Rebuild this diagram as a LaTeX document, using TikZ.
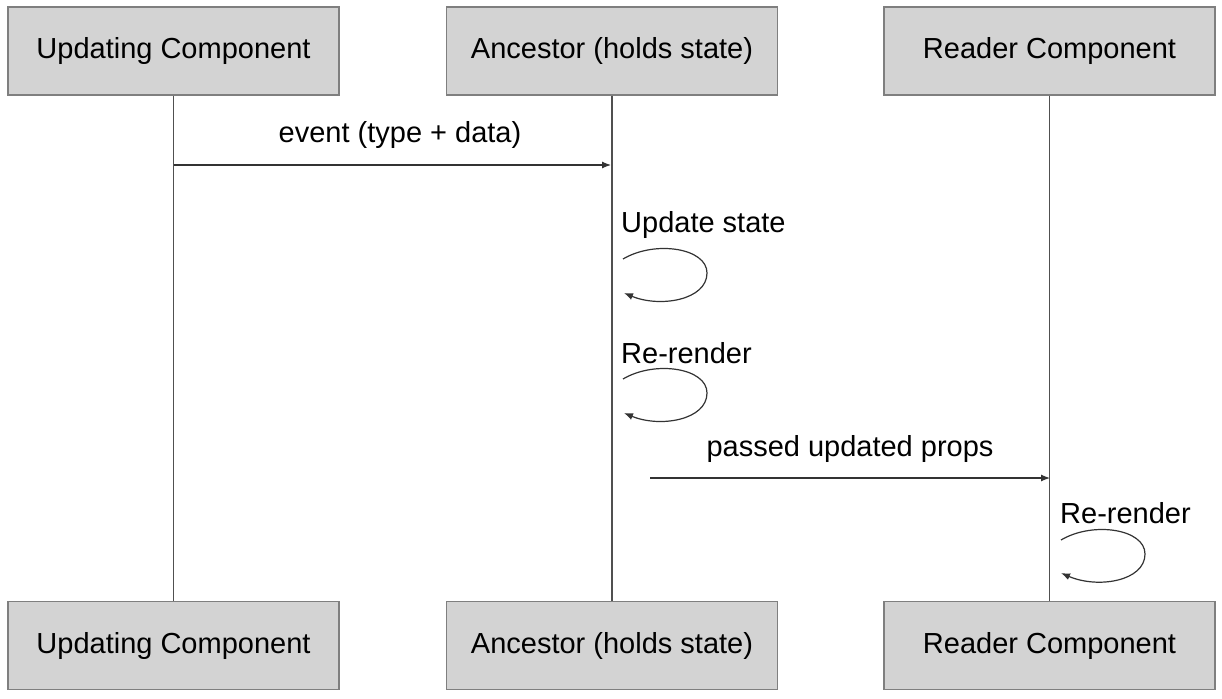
\documentclass[tikz,border=0pt]{standalone}
\usepackage{fontspec}
\setmainfont{Liberation Sans}
\usetikzlibrary{arrows.meta}
\definecolor{boxfill}{HTML}{D3D3D3}
\definecolor{boxline}{HTML}{7F7F7F}
\definecolor{wire}{HTML}{505050}
\begin{document}
\begin{tikzpicture}[x=1pt,y=-1pt,
  actor/.style={draw=boxline,fill=boxfill,line width=1.2pt,minimum width=331pt,minimum height=88pt,inner sep=0pt,font=\fontsize{29}{34}\selectfont},
  lbl/.style={inner sep=0pt,font=\fontsize{29}{34}\selectfont},
  life/.style={draw=wire,line width=1.2pt},
  msg/.style={draw=black!80,line width=1.2pt,-{Latex[length=9pt,width=7pt]}}]
\useasboundingbox (0,0) rectangle (1222,698);
\node[actor] (ut) at (173.5,51) {Updating Component};
\node[actor] (at) at (612,51) {Ancestor (holds state)};
\node[actor] (rt) at (1049.5,51) {Reader Component};
\node[actor] (ub) at (173.5,645.5) {Updating Component};
\node[actor] (ab) at (612,645.5) {Ancestor (holds state)};
\node[actor] (rb) at (1049.5,645.5) {Reader Component};
\draw[life] (ut.south) -- (ub.north);
\draw[life] (at.south) -- (ab.north);
\draw[life] (rt.south) -- (rb.north);
% message 1
\coordinate (m1s) at (174,165);
\coordinate (m1e) at (611,165);
\draw[msg] (m1s) -- (m1e);
\node[lbl] (m1l) at (400,135) {event (type + data)};
% loop 1
\node[lbl,anchor=west] (l1) at (621,225) {Update state};
\coordinate (l1s) at (623,259);
\coordinate (l1e) at (624,293);
\draw[msg] (l1s) .. controls (655,240) and (707,248) .. (707,273) .. controls (707,300) and (660,308) .. (l1e);
% loop 2
\node[lbl,anchor=west] (l2) at (621,353) {Re-render};
\coordinate (l2s) at (623,379);
\coordinate (l2e) at (624,413);
\draw[msg] (l2s) .. controls (655,360) and (707,368) .. (707,393) .. controls (707,420) and (660,428) .. (l2e);
% message 2
\coordinate (m2s) at (650,478);
\coordinate (m2e) at (1050,478);
\draw[msg] (m2s) -- (m2e);
\node[lbl] (m2l) at (850,449) {passed updated props};
% loop 3
\node[lbl,anchor=west] (l3) at (1060,513) {Re-render};
\coordinate (l3s) at (1061,540);
\coordinate (l3e) at (1061,573);
\draw[msg] (l3s) .. controls (1093,521) and (1145,529) .. (1145,554) .. controls (1145,581) and (1098,589) .. (l3e);
\end{tikzpicture}
\end{document}
